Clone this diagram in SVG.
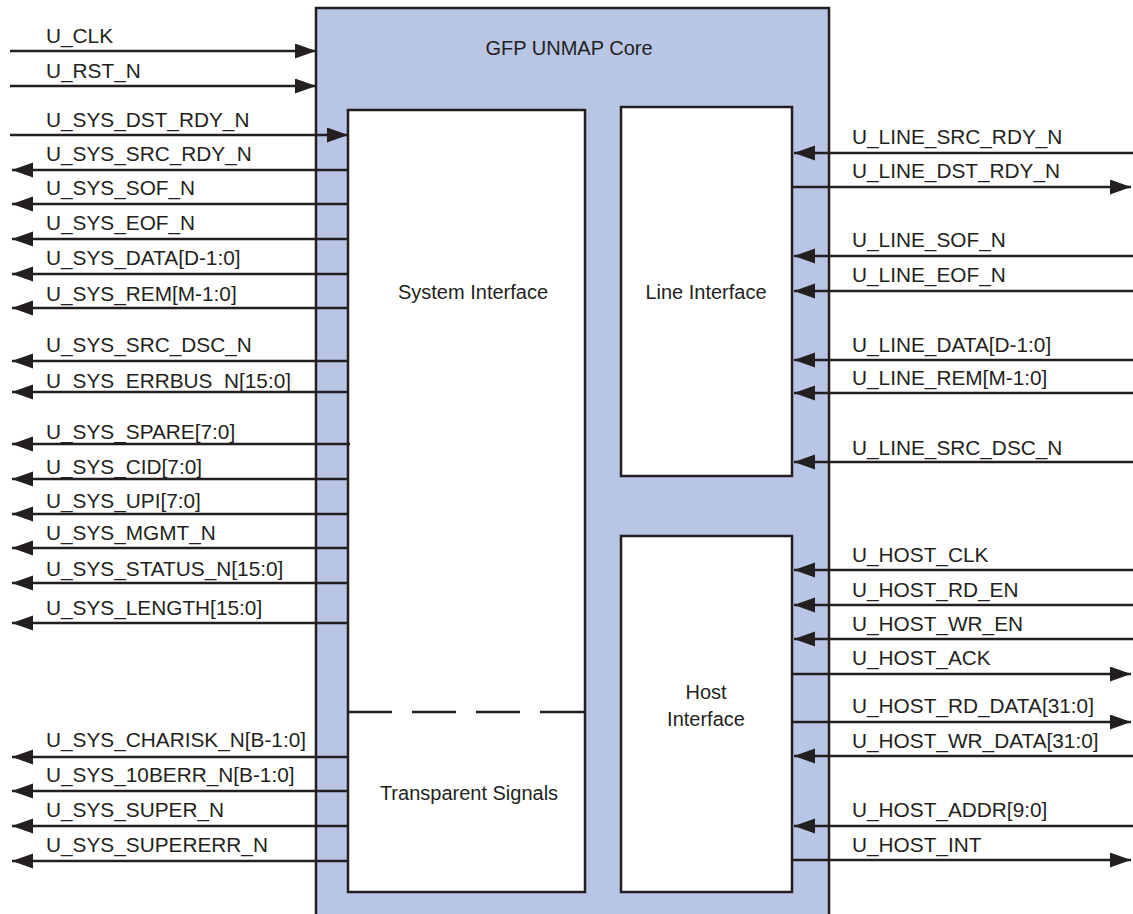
<svg xmlns="http://www.w3.org/2000/svg" width="1133" height="914" viewBox="0 0 1133 914">
<defs>
<style>
.box{fill:#ffffff;stroke:#231f20;stroke-width:2.5}
.core{fill:#b9c5e5;stroke:#231f20;stroke-width:2.5}
.ln{stroke:#231f20;stroke-width:2.5;fill:none}
.t{font-family:"Liberation Sans",Arial,Helvetica,sans-serif;font-size:20px;fill:#231f20}
.s{font-size:20.8px}
.c{text-anchor:middle}
</style>
<marker id="ah" markerUnits="userSpaceOnUse" markerWidth="23" markerHeight="16" refX="21" refY="7.5" orient="auto">
<path d="M0,0 L21,7.5 L0,15 z" fill="#231f20"/>
</marker>
</defs>
<rect width="1133" height="914" fill="#ffffff"/>

<g id="core">
<rect class="core" x="316" y="8" width="513" height="920"/>
<text class="t c" x="569" y="55">GFP UNMAP Core</text>
</g>

<g id="system-interface">
<rect class="box" x="348" y="110" width="237" height="782"/>
<line x1="348" y1="712" x2="585" y2="712" stroke="#231f20" stroke-width="2.5" stroke-dasharray="44 20"/>
<text class="t c" x="473" y="299">System Interface</text>
<text class="t c" x="469" y="800">Transparent Signals</text>
</g>

<g id="line-interface">
<rect class="box" x="621" y="107" width="171" height="369"/>
<text class="t c" x="706" y="299">Line Interface</text>
</g>

<g id="host-interface">
<rect class="box" x="621" y="536" width="171" height="356"/>
<text class="t c" x="706" y="699">Host</text>
<text class="t c" x="706" y="726">Interface</text>
</g>

<g id="connectors">
<line class="ln" x1="10" y1="51" x2="316" y2="51" marker-end="url(#ah)"/>
<line class="ln" x1="10" y1="86" x2="316" y2="86" marker-end="url(#ah)"/>
<line class="ln" x1="10" y1="135" x2="348" y2="135" marker-end="url(#ah)"/>
<line class="ln" x1="348" y1="170" x2="12" y2="170" marker-end="url(#ah)"/>
<line class="ln" x1="348" y1="204" x2="12" y2="204" marker-end="url(#ah)"/>
<line class="ln" x1="348" y1="239" x2="12" y2="239" marker-end="url(#ah)"/>
<line class="ln" x1="348" y1="274" x2="12" y2="274" marker-end="url(#ah)"/>
<line class="ln" x1="348" y1="308" x2="12" y2="308" marker-end="url(#ah)"/>
<line class="ln" x1="348" y1="361" x2="12" y2="361" marker-end="url(#ah)"/>
<line class="ln" x1="348" y1="392" x2="12" y2="392" marker-end="url(#ah)"/>
<line class="ln" x1="350" y1="444" x2="12" y2="444" marker-end="url(#ah)"/>
<line class="ln" x1="348" y1="479" x2="12" y2="479" marker-end="url(#ah)"/>
<line class="ln" x1="348" y1="514" x2="12" y2="514" marker-end="url(#ah)"/>
<line class="ln" x1="348" y1="548" x2="12" y2="548" marker-end="url(#ah)"/>
<line class="ln" x1="348" y1="583" x2="12" y2="583" marker-end="url(#ah)"/>
<line class="ln" x1="348" y1="623" x2="12" y2="623" marker-end="url(#ah)"/>
<line class="ln" x1="348" y1="757" x2="12" y2="757" marker-end="url(#ah)"/>
<line class="ln" x1="348" y1="791" x2="12" y2="791" marker-end="url(#ah)"/>
<line class="ln" x1="348" y1="826" x2="12" y2="826" marker-end="url(#ah)"/>
<line class="ln" x1="348" y1="861" x2="12" y2="861" marker-end="url(#ah)"/>
<line class="ln" x1="1133" y1="153" x2="794" y2="153" marker-end="url(#ah)"/>
<line class="ln" x1="792" y1="187" x2="1131" y2="187" marker-end="url(#ah)"/>
<line class="ln" x1="1133" y1="256" x2="794" y2="256" marker-end="url(#ah)"/>
<line class="ln" x1="1133" y1="291" x2="794" y2="291" marker-end="url(#ah)"/>
<line class="ln" x1="1133" y1="360" x2="794" y2="360" marker-end="url(#ah)"/>
<line class="ln" x1="1133" y1="393" x2="794" y2="393" marker-end="url(#ah)"/>
<line class="ln" x1="1133" y1="462" x2="794" y2="462" marker-end="url(#ah)"/>
<line class="ln" x1="1133" y1="570" x2="794" y2="570" marker-end="url(#ah)"/>
<line class="ln" x1="1133" y1="605" x2="794" y2="605" marker-end="url(#ah)"/>
<line class="ln" x1="1133" y1="639" x2="794" y2="639" marker-end="url(#ah)"/>
<line class="ln" x1="792" y1="674" x2="1131" y2="674" marker-end="url(#ah)"/>
<line class="ln" x1="792" y1="722" x2="1131" y2="722" marker-end="url(#ah)"/>
<line class="ln" x1="1133" y1="756" x2="794" y2="756" marker-end="url(#ah)"/>
<line class="ln" x1="1133" y1="826" x2="794" y2="826" marker-end="url(#ah)"/>
<line class="ln" x1="792" y1="860" x2="1131" y2="860" marker-end="url(#ah)"/>
</g>

<g id="labels">
<text class="t s" x="46" y="43">U_CLK</text>
<text class="t s" x="46" y="78">U_RST_N</text>
<text class="t s" x="46" y="127">U_SYS_DST_RDY_N</text>
<text class="t s" x="46" y="161">U_SYS_SRC_RDY_N</text>
<text class="t s" x="46" y="195">U_SYS_SOF_N</text>
<text class="t s" x="46" y="230">U_SYS_EOF_N</text>
<text class="t s" x="46" y="265">U_SYS_DATA[D-1:0]</text>
<text class="t s" x="46" y="301">U_SYS_REM[M-1:0]</text>
<text class="t s" x="46" y="352">U_SYS_SRC_DSC_N</text>
<text class="t s" x="46" y="388">U_SYS_ERRBUS_N[15:0]</text>
<text class="t s" x="46" y="439">U_SYS_SPARE[7:0]</text>
<text class="t s" x="46" y="474">U_SYS_CID[7:0]</text>
<text class="t s" x="46" y="508">U_SYS_UPI[7:0]</text>
<text class="t s" x="46" y="540">U_SYS_MGMT_N</text>
<text class="t s" x="46" y="576">U_SYS_STATUS_N[15:0]</text>
<text class="t s" x="46" y="615">U_SYS_LENGTH[15:0]</text>
<text class="t s" x="46" y="747">U_SYS_CHARISK_N[B-1:0]</text>
<text class="t s" x="46" y="782">U_SYS_10BERR_N[B-1:0]</text>
<text class="t s" x="46" y="817">U_SYS_SUPER_N</text>
<text class="t s" x="46" y="852">U_SYS_SUPERERR_N</text>

<text class="t s" x="852" y="144">U_LINE_SRC_RDY_N</text>
<text class="t s" x="852" y="178">U_LINE_DST_RDY_N</text>
<text class="t s" x="852" y="247">U_LINE_SOF_N</text>
<text class="t s" x="852" y="282">U_LINE_EOF_N</text>
<text class="t s" x="852" y="352">U_LINE_DATA[D-1:0]</text>
<text class="t s" x="852" y="385">U_LINE_REM[M-1:0]</text>
<text class="t s" x="852" y="455">U_LINE_SRC_DSC_N</text>
<text class="t s" x="852" y="562">U_HOST_CLK</text>
<text class="t s" x="852" y="597">U_HOST_RD_EN</text>
<text class="t s" x="852" y="631">U_HOST_WR_EN</text>
<text class="t s" x="852" y="665">U_HOST_ACK</text>
<text class="t s" x="852" y="713">U_HOST_RD_DATA[31:0]</text>
<text class="t s" x="852" y="748">U_HOST_WR_DATA[31:0]</text>
<text class="t s" x="852" y="817">U_HOST_ADDR[9:0]</text>
<text class="t s" x="852" y="852">U_HOST_INT</text>
</g>
</svg>
